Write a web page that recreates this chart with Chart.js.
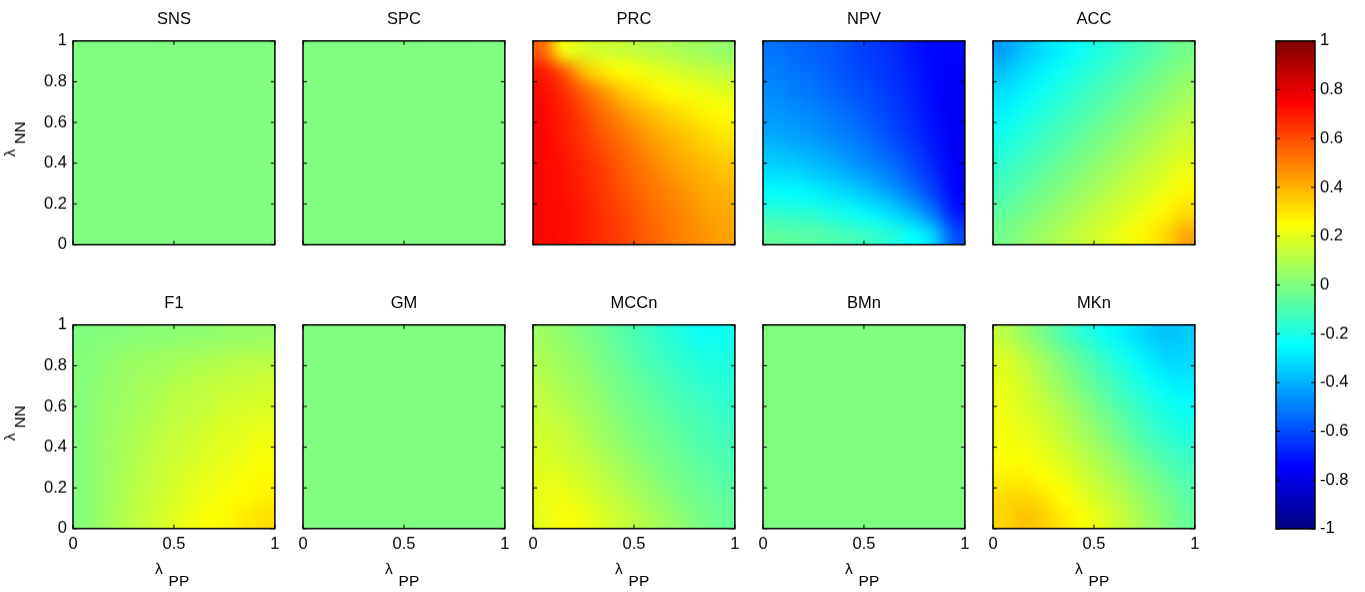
<!DOCTYPE html>
<html>
<head>
<meta charset="utf-8">
<script src="https://cdn.jsdelivr.net/npm/chart.js@4.4.0/dist/chart.umd.min.js"></script>
<style>
  html, body { margin: 0; padding: 0; background: #fff; }
  #page { position: relative; width: 1365px; height: 592px; overflow: hidden; background: #fff; }
  .panel { position: absolute; }
</style>
</head>
<body>
<div id="page"></div>
<script>
// panel names, axis grid and ticks
const panelNames = ['SNS', 'SPC', 'PRC', 'NPV', 'ACC', 'F1', 'GM', 'MCCn', 'BMn', 'MKn'];
const lambdaPP = [0.05, 0.15, 0.25, 0.35, 0.45, 0.55, 0.65, 0.75, 0.85, 0.95];
const lambdaNN = [0.95, 0.85, 0.75, 0.65, 0.55, 0.45, 0.35, 0.25, 0.15, 0.05]; // rows, top to bottom
const xTickValues = [0, 0.5, 1];
const yTickValues = [0, 0.2, 0.4, 0.6, 0.8, 1];
const colorTickValues = [-1, -0.8, -0.6, -0.4, -0.2, 0, 0.2, 0.4, 0.6, 0.8, 1];

// values, one row per lambdaNN value
const sns = [
  [0, 0, 0, 0, 0, 0, 0, 0, 0, 0],
  [0, 0, 0, 0, 0, 0, 0, 0, 0, 0],
  [0, 0, 0, 0, 0, 0, 0, 0, 0, 0],
  [0, 0, 0, 0, 0, 0, 0, 0, 0, 0],
  [0, 0, 0, 0, 0, 0, 0, 0, 0, 0],
  [0, 0, 0, 0, 0, 0, 0, 0, 0, 0],
  [0, 0, 0, 0, 0, 0, 0, 0, 0, 0],
  [0, 0, 0, 0, 0, 0, 0, 0, 0, 0],
  [0, 0, 0, 0, 0, 0, 0, 0, 0, 0],
  [0, 0, 0, 0, 0, 0, 0, 0, 0, 0]
];
const spc = [
  [0, 0, 0, 0, 0, 0, 0, 0, 0, 0],
  [0, 0, 0, 0, 0, 0, 0, 0, 0, 0],
  [0, 0, 0, 0, 0, 0, 0, 0, 0, 0],
  [0, 0, 0, 0, 0, 0, 0, 0, 0, 0],
  [0, 0, 0, 0, 0, 0, 0, 0, 0, 0],
  [0, 0, 0, 0, 0, 0, 0, 0, 0, 0],
  [0, 0, 0, 0, 0, 0, 0, 0, 0, 0],
  [0, 0, 0, 0, 0, 0, 0, 0, 0, 0],
  [0, 0, 0, 0, 0, 0, 0, 0, 0, 0],
  [0, 0, 0, 0, 0, 0, 0, 0, 0, 0]
];
const prc = [
  [0.55, 0.23, 0.18, 0.16, 0.14, 0.12, 0.10, 0.08, 0.06, 0.04],
  [0.70, 0.58, 0.38, 0.29, 0.25, 0.22, 0.19, 0.16, 0.14, 0.12],
  [0.73, 0.66, 0.56, 0.45, 0.36, 0.30, 0.26, 0.23, 0.21, 0.19],
  [0.74, 0.69, 0.61, 0.53, 0.45, 0.39, 0.34, 0.30, 0.27, 0.25],
  [0.74, 0.70, 0.64, 0.57, 0.51, 0.45, 0.40, 0.36, 0.32, 0.29],
  [0.74, 0.71, 0.66, 0.60, 0.55, 0.49, 0.44, 0.40, 0.36, 0.33],
  [0.74, 0.72, 0.68, 0.63, 0.57, 0.52, 0.47, 0.43, 0.40, 0.37],
  [0.74, 0.72, 0.69, 0.64, 0.59, 0.54, 0.50, 0.46, 0.42, 0.40],
  [0.74, 0.73, 0.70, 0.65, 0.61, 0.56, 0.52, 0.48, 0.44, 0.42],
  [0.74, 0.73, 0.70, 0.66, 0.62, 0.57, 0.53, 0.49, 0.46, 0.43]
];
const npv = [
  [-0.52, -0.54, -0.56, -0.58, -0.61, -0.64, -0.67, -0.71, -0.74, -0.74],
  [-0.50, -0.52, -0.54, -0.57, -0.60, -0.63, -0.66, -0.70, -0.74, -0.76],
  [-0.48, -0.50, -0.52, -0.55, -0.58, -0.61, -0.65, -0.69, -0.74, -0.77],
  [-0.45, -0.47, -0.49, -0.52, -0.55, -0.59, -0.63, -0.68, -0.73, -0.77],
  [-0.42, -0.44, -0.46, -0.49, -0.52, -0.56, -0.61, -0.66, -0.72, -0.77],
  [-0.37, -0.39, -0.41, -0.44, -0.48, -0.52, -0.57, -0.63, -0.70, -0.77],
  [-0.31, -0.32, -0.35, -0.38, -0.42, -0.46, -0.52, -0.59, -0.67, -0.76],
  [-0.24, -0.25, -0.27, -0.30, -0.33, -0.38, -0.44, -0.52, -0.62, -0.74],
  [-0.15, -0.16, -0.17, -0.20, -0.23, -0.27, -0.32, -0.40, -0.52, -0.70],
  [-0.06, -0.07, -0.08, -0.10, -0.12, -0.15, -0.19, -0.25, -0.35, -0.60]
];
const acc = [
  [-0.44, -0.37, -0.31, -0.27, -0.22, -0.18, -0.14, -0.10, -0.06, -0.02],
  [-0.37, -0.31, -0.27, -0.22, -0.18, -0.14, -0.10, -0.06, -0.02, 0.02],
  [-0.31, -0.27, -0.22, -0.18, -0.14, -0.10, -0.06, -0.02, 0.02, 0.06],
  [-0.27, -0.22, -0.18, -0.14, -0.10, -0.06, -0.02, 0.02, 0.06, 0.10],
  [-0.22, -0.18, -0.14, -0.10, -0.06, -0.02, 0.02, 0.06, 0.10, 0.14],
  [-0.18, -0.14, -0.10, -0.06, -0.02, 0.02, 0.06, 0.10, 0.14, 0.18],
  [-0.14, -0.10, -0.06, -0.02, 0.02, 0.06, 0.10, 0.14, 0.18, 0.22],
  [-0.10, -0.06, -0.02, 0.02, 0.06, 0.10, 0.14, 0.18, 0.22, 0.27],
  [-0.06, -0.02, 0.02, 0.06, 0.10, 0.14, 0.18, 0.22, 0.27, 0.32],
  [-0.02, 0.02, 0.06, 0.10, 0.14, 0.18, 0.22, 0.27, 0.32, 0.42]
];
const f1 = [
  [0.00, 0.01, 0.01, 0.02, 0.02, 0.03, 0.03, 0.04, 0.04, 0.05],
  [0.01, 0.02, 0.04, 0.05, 0.06, 0.07, 0.08, 0.09, 0.10, 0.10],
  [0.01, 0.03, 0.05, 0.07, 0.08, 0.10, 0.11, 0.12, 0.13, 0.14],
  [0.01, 0.04, 0.06, 0.08, 0.10, 0.12, 0.13, 0.15, 0.16, 0.17],
  [0.01, 0.04, 0.07, 0.09, 0.11, 0.13, 0.15, 0.17, 0.18, 0.19],
  [0.01, 0.05, 0.08, 0.10, 0.13, 0.15, 0.17, 0.19, 0.20, 0.22],
  [0.01, 0.05, 0.08, 0.11, 0.14, 0.16, 0.18, 0.20, 0.22, 0.24],
  [0.01, 0.05, 0.09, 0.12, 0.15, 0.18, 0.20, 0.22, 0.24, 0.26],
  [0.01, 0.06, 0.09, 0.13, 0.16, 0.19, 0.22, 0.24, 0.26, 0.28],
  [0.01, 0.06, 0.10, 0.14, 0.17, 0.21, 0.24, 0.26, 0.29, 0.31]
];
const gm = [
  [0, 0, 0, 0, 0, 0, 0, 0, 0, 0],
  [0, 0, 0, 0, 0, 0, 0, 0, 0, 0],
  [0, 0, 0, 0, 0, 0, 0, 0, 0, 0],
  [0, 0, 0, 0, 0, 0, 0, 0, 0, 0],
  [0, 0, 0, 0, 0, 0, 0, 0, 0, 0],
  [0, 0, 0, 0, 0, 0, 0, 0, 0, 0],
  [0, 0, 0, 0, 0, 0, 0, 0, 0, 0],
  [0, 0, 0, 0, 0, 0, 0, 0, 0, 0],
  [0, 0, 0, 0, 0, 0, 0, 0, 0, 0],
  [0, 0, 0, 0, 0, 0, 0, 0, 0, 0]
];
const mccn = [
  [0.06, 0.03, 0.00, -0.04, -0.08, -0.12, -0.16, -0.20, -0.23, -0.22],
  [0.08, 0.05, 0.02, -0.02, -0.06, -0.10, -0.14, -0.17, -0.20, -0.20],
  [0.10, 0.07, 0.04, 0.00, -0.04, -0.07, -0.11, -0.14, -0.17, -0.18],
  [0.12, 0.09, 0.06, 0.02, -0.02, -0.05, -0.08, -0.12, -0.14, -0.16],
  [0.14, 0.12, 0.08, 0.04, 0.00, -0.03, -0.06, -0.09, -0.12, -0.14],
  [0.16, 0.14, 0.10, 0.06, 0.02, -0.01, -0.04, -0.07, -0.10, -0.12],
  [0.18, 0.16, 0.13, 0.09, 0.05, 0.01, -0.02, -0.05, -0.08, -0.10],
  [0.20, 0.19, 0.16, 0.12, 0.08, 0.04, 0.00, -0.03, -0.06, -0.08],
  [0.21, 0.22, 0.19, 0.15, 0.11, 0.07, 0.03, -0.01, -0.04, -0.06],
  [0.20, 0.24, 0.22, 0.18, 0.14, 0.10, 0.06, 0.02, -0.02, -0.05]
];
const bmn = [
  [0, 0, 0, 0, 0, 0, 0, 0, 0, 0],
  [0, 0, 0, 0, 0, 0, 0, 0, 0, 0],
  [0, 0, 0, 0, 0, 0, 0, 0, 0, 0],
  [0, 0, 0, 0, 0, 0, 0, 0, 0, 0],
  [0, 0, 0, 0, 0, 0, 0, 0, 0, 0],
  [0, 0, 0, 0, 0, 0, 0, 0, 0, 0],
  [0, 0, 0, 0, 0, 0, 0, 0, 0, 0],
  [0, 0, 0, 0, 0, 0, 0, 0, 0, 0],
  [0, 0, 0, 0, 0, 0, 0, 0, 0, 0],
  [0, 0, 0, 0, 0, 0, 0, 0, 0, 0]
];
const mkn = [
  [0.12, 0.05, -0.02, -0.10, -0.17, -0.23, -0.28, -0.33, -0.37, -0.35],
  [0.18, 0.12, 0.05, -0.02, -0.09, -0.16, -0.22, -0.28, -0.33, -0.33],
  [0.20, 0.15, 0.09, 0.02, -0.05, -0.11, -0.17, -0.23, -0.28, -0.30],
  [0.21, 0.17, 0.12, 0.06, 0.00, -0.07, -0.13, -0.18, -0.23, -0.26],
  [0.22, 0.19, 0.15, 0.10, 0.04, -0.02, -0.08, -0.14, -0.19, -0.22],
  [0.23, 0.21, 0.18, 0.13, 0.08, 0.02, -0.04, -0.10, -0.15, -0.18],
  [0.25, 0.24, 0.21, 0.17, 0.12, 0.07, 0.01, -0.05, -0.10, -0.14],
  [0.28, 0.28, 0.25, 0.21, 0.16, 0.11, 0.06, 0.00, -0.05, -0.10],
  [0.32, 0.33, 0.30, 0.25, 0.20, 0.15, 0.10, 0.04, -0.01, -0.07],
  [0.33, 0.37, 0.34, 0.29, 0.24, 0.19, 0.13, 0.07, 0.01, -0.05]
];
const panelValues = [sns, spc, prc, npv, acc, f1, gm, mccn, bmn, mkn];

// placement of the plot boxes on the page
const panelLeft = [73, 303, 533, 763, 993];
const panelTop = [41, 325];
const panelSize = 203;
const barBox = { left: 1276, top: 41, width: 39, height: 487 };

const FONT = "'Liberation Sans', Arial, Helvetica, sans-serif";
Chart.defaults.font.family = FONT;
Chart.defaults.color = '#000';

const tickText = v => String(Math.round(v * 10) / 10);

// matlab jet colormap, value in [-1, 1]
function jet(v) {
  const t = (v + 1) / 2;
  const c = k => Math.round(255 * Math.min(1, Math.max(0, 1.5 - Math.abs(4 * t - k))));
  return 'rgb(' + c(3) + ',' + c(2) + ',' + c(1) + ')';
}

// interpolated shading: take the colour of each drawn cell and stretch it smoothly
const shade = {
  id: 'shade',
  afterDatasetsDraw(chart) {
    const { ctx, chartArea: a, scales: { x, y } } = chart;
    const nx = lambdaPP.length, ny = lambdaNN.length;
    const img = new ImageData(nx, ny);
    lambdaNN.forEach((yv, r) => lambdaPP.forEach((xv, c) => {
      const px = Math.round(x.getPixelForValue(xv)), py = Math.round(y.getPixelForValue(yv));
      img.data.set(ctx.getImageData(px, py, 1, 1).data, (r * nx + c) * 4);
    }));
    const off = document.createElement('canvas');
    off.width = nx;
    off.height = ny;
    off.getContext('2d').putImageData(img, 0, 0);
    ctx.save();
    ctx.imageSmoothingEnabled = true;
    ctx.imageSmoothingQuality = 'high';
    ctx.drawImage(off, a.left, a.top, a.right - a.left, a.bottom - a.top);
    ctx.restore();
  }
};

// black frame with inward tick marks on all four sides
const boxPlugin = {
  id: 'box',
  afterDatasetsDraw(chart, args, opts) {
    const { ctx, chartArea: a, scales } = chart;
    const len = 4;
    ctx.save();
    ctx.strokeStyle = '#000';
    ctx.lineWidth = 1;
    ctx.beginPath();
    if (opts.xTicks) {
      scales.x.ticks.forEach(t => {
        const px = scales.x.getPixelForValue(t.value);
        ctx.moveTo(px, a.bottom); ctx.lineTo(px, a.bottom - len);
        ctx.moveTo(px, a.top); ctx.lineTo(px, a.top + len);
      });
    }
    scales.y.ticks.forEach(t => {
      const py = scales.y.getPixelForValue(t.value);
      ctx.moveTo(a.left, py); ctx.lineTo(a.left + len, py);
      ctx.moveTo(a.right, py); ctx.lineTo(a.right - len, py);
    });
    ctx.stroke();
    ctx.lineWidth = 1.5;
    ctx.strokeRect(a.left, a.top, a.right - a.left, a.bottom - a.top);
    ctx.restore();
  }
};

// lambda axis labels with lowered subscripts
const lambdaLabels = {
  id: 'lambdaLabels',
  afterDraw(chart, args, opts) {
    const { ctx, chartArea: a } = chart;
    ctx.save();
    ctx.fillStyle = '#000';
    ctx.font = '15.5px ' + FONT;
    ctx.textAlign = 'center';
    ctx.textBaseline = 'middle';
    if (opts.x) {
      const cx = (a.left + a.right) / 2;
      ctx.fillText('λ', cx - 15, a.bottom + 41);
      ctx.fillText('PP', cx + 5, a.bottom + 53);
    }
    if (opts.y) {
      const cy = (a.top + a.bottom) / 2;
      ctx.translate(a.left - 57, cy);
      ctx.rotate(-Math.PI / 2);
      ctx.fillText('λ', -10, -5);
      ctx.fillText('NN', 10, 5);
    }
    ctx.restore();
  }
};

// gradient strip for the colorbar, laid along the y scale
const jetStrip = {
  id: 'jetStrip',
  beforeDatasetsDraw(chart) {
    const { ctx, chartArea: a, scales: { y } } = chart;
    const y0 = y.getPixelForValue(-1), y1 = y.getPixelForValue(1);
    const g = ctx.createLinearGradient(0, y0, 0, y1);
    for (let i = 0; i <= 64; i++) g.addColorStop(i / 64, jet(-1 + 2 * i / 64));
    ctx.save();
    ctx.fillStyle = g;
    ctx.fillRect(a.left, a.top, a.right - a.left, a.bottom - a.top);
    ctx.restore();
  }
};

const page = document.getElementById('page');

function place(chart, div, left, top, w, h) {
  let a = chart.chartArea;
  chart.resize(chart.width + (w - (a.right - a.left)), chart.height + (h - (a.bottom - a.top)));
  a = chart.chartArea;
  div.style.left = (left - a.left) + 'px';
  div.style.top = (top - a.top) + 'px';
}

function makePanel(idx) {
  const row = Math.floor(idx / 5), col = idx % 5;
  const values = panelValues[idx];
  const points = [];
  lambdaNN.forEach((yv, r) => lambdaPP.forEach((xv, c) => points.push({ x: xv, y: yv, v: values[r][c] })));

  const div = document.createElement('div');
  div.className = 'panel';
  const canvas = document.createElement('canvas');
  canvas.width = 290;
  canvas.height = 300;
  div.appendChild(canvas);
  page.appendChild(div);

  const cellRadius = ctx => {
    const { x, y } = ctx.chart.scales;
    const cw = Math.abs(x.getPixelForValue(lambdaPP[1]) - x.getPixelForValue(lambdaPP[0]));
    const ch = Math.abs(y.getPixelForValue(lambdaNN[0]) - y.getPixelForValue(lambdaNN[1]));
    return Math.max(cw, ch) / Math.SQRT2 + 0.7;
  };

  const chart = new Chart(canvas, {
    type: 'scatter',
    data: {
      datasets: [{
        data: points,
        pointStyle: 'rect',
        pointRadius: cellRadius,
        pointHoverRadius: cellRadius,
        pointBorderWidth: 0,
        pointBackgroundColor: ctx => jet(ctx.raw.v),
        clip: 0
      }]
    },
    options: {
      responsive: false,
      maintainAspectRatio: false,
      animation: false,
      events: [],
      layout: { padding: { left: 0, right: 14, top: 0, bottom: 0 } },
      plugins: {
        legend: { display: false },
        tooltip: { enabled: false },
        title: {
          display: true,
          text: panelNames[idx],
          fullSize: false,
          color: '#000',
          font: { size: 16.5, weight: 'normal' },
          padding: { top: 4, bottom: 11 }
        },
        box: { xTicks: true },
        lambdaLabels: { x: row === 1, y: col === 0 }
      },
      scales: {
        x: {
          type: 'linear', min: 0, max: 1,
          grid: { display: false, drawTicks: false }, border: { display: false },
          afterBuildTicks: s => { s.ticks = xTickValues.map(v => ({ value: v })); },
          ticks: { display: row === 1, padding: 6, autoSkip: false, maxRotation: 0, color: '#000', font: { size: 16.5 }, callback: tickText },
          afterFit: s => { s.height = 66; }
        },
        y: {
          type: 'linear', min: 0, max: 1,
          grid: { display: false, drawTicks: false }, border: { display: false },
          afterBuildTicks: s => { s.ticks = yTickValues.map(v => ({ value: v })); },
          ticks: { display: col === 0, padding: 6, autoSkip: false, color: '#000', font: { size: 16.5 }, callback: tickText },
          afterFit: s => { s.width = 72; }
        }
      }
    },
    plugins: [shade, boxPlugin, lambdaLabels]
  });
  place(chart, div, panelLeft[col], panelTop[row], panelSize, panelSize);
}

panelNames.forEach((n, i) => makePanel(i));

// colorbar
(function () {
  const div = document.createElement('div');
  div.className = 'panel';
  const canvas = document.createElement('canvas');
  canvas.width = 100;
  canvas.height = 520;
  div.appendChild(canvas);
  page.appendChild(div);
  const chart = new Chart(canvas, {
    type: 'scatter',
    data: { datasets: [] },
    options: {
      responsive: false,
      maintainAspectRatio: false,
      animation: false,
      events: [],
      layout: { padding: { left: 4, right: 4, top: 12, bottom: 12 } },
      plugins: { legend: { display: false }, tooltip: { enabled: false }, box: { xTicks: false } },
      scales: {
        x: { type: 'linear', min: 0, max: 1, display: false },
        y: {
          type: 'linear', min: -1, max: 1, position: 'right',
          grid: { display: false, drawTicks: false }, border: { display: false },
          afterBuildTicks: s => { s.ticks = colorTickValues.map(v => ({ value: v })); },
          ticks: { padding: 5, autoSkip: false, color: '#000', font: { size: 16.5 }, callback: tickText },
          afterFit: s => { s.width = 44; }
        }
      }
    },
    plugins: [jetStrip, boxPlugin]
  });
  place(chart, div, barBox.left, barBox.top, barBox.width, barBox.height);
})();
</script>
</body>
</html>
